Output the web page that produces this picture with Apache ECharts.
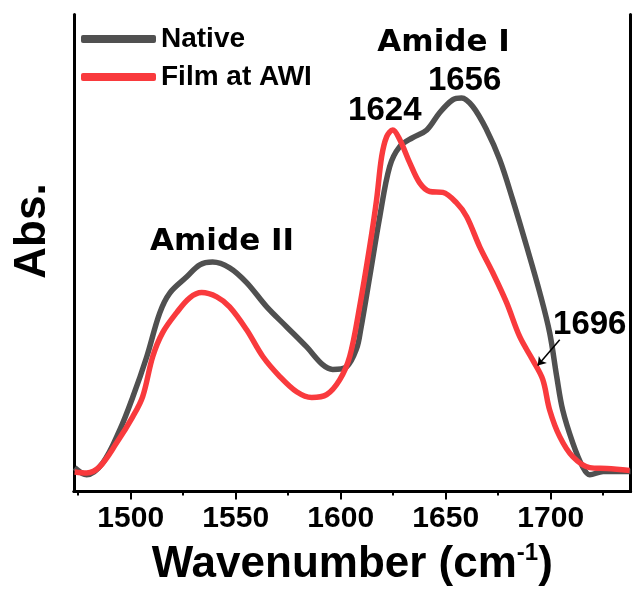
<!DOCTYPE html>
<html><head><meta charset="utf-8">
<script src="https://cdn.jsdelivr.net/npm/echarts@6/dist/echarts.min.js"></script>
<style>html,body{margin:0;padding:0;background:#fff}#c{width:633px;height:592px}</style>
</head><body><div id="c"></div>
<script>
// ---- data ----
const seriesNames = ['Native', 'Film at AWI'];
const xTickLabels = ['1500', '1550', '1600', '1650', '1700'];
const xMinorTicks = [1475, 1525, 1575, 1625, 1675, 1725];

const nativeX = [1473.3,1479.0,1486.7,1494.8,1501.0,1507.6,1513.8,1518.6,1526.7,1532.9,1539.0,1547.1,1555.2,1564.8,1574.3,1583.8,1591.4,1596.2,1602.9,1607.6,1609.5,1613.8,1618.6,1623.3,1628.1,1634.3,1641.0,1647.1,1653.3,1657.6,1662.9,1669.5,1675.7,1681.9,1688.6,1694.8,1699.5,1702.9,1705.7,1710.5,1715.2,1718.6,1725.0,1738.0];
const nativeY = [0.050,0.035,0.060,0.129,0.198,0.282,0.374,0.416,0.450,0.475,0.481,0.469,0.438,0.387,0.345,0.303,0.266,0.256,0.262,0.300,0.339,0.450,0.576,0.681,0.723,0.742,0.758,0.794,0.821,0.825,0.807,0.758,0.696,0.612,0.513,0.417,0.333,0.240,0.171,0.102,0.052,0.035,0.042,0.042];

const filmX = [1473.3,1479.0,1485.2,1493.3,1501.0,1505.7,1510.5,1515.2,1521.9,1528.1,1533.8,1541.0,1547.1,1555.2,1562.9,1571.0,1579.0,1586.2,1593.3,1599.5,1604.3,1609.0,1613.8,1617.1,1619.5,1621.9,1624.8,1628.1,1632.9,1637.6,1642.4,1648.6,1655.2,1660.0,1666.2,1672.4,1679.0,1685.2,1691.4,1696.2,1699.5,1704.3,1710.5,1718.6,1726.7,1737.6];
const filmY = [0.041,0.039,0.052,0.102,0.157,0.199,0.283,0.333,0.375,0.406,0.417,0.408,0.387,0.339,0.283,0.241,0.209,0.197,0.203,0.234,0.283,0.387,0.513,0.612,0.702,0.744,0.758,0.738,0.689,0.647,0.629,0.627,0.605,0.576,0.513,0.459,0.396,0.325,0.276,0.235,0.171,0.115,0.073,0.050,0.048,0.044];

const annotationTexts = ['Amide II', 'Amide I', '1624', '1656', '1696'];
const annotationX = [1543.5, 1649, 1621, 1659, 1718.6];
const annotationY = [0.524, 0.941, 0.797, 0.860, 0.349];
const arrowFrom = [1704.3, 0.318];
const arrowTo = [1693.8, 0.264];

// ---- chart ----
const FONT = '"Liberation Sans", Arial, sans-serif';
const WIDE = '"DejaVu Sans", sans-serif';
const X_MIN = 1473, X_MAX = 1738;
const zip = (xs, ys) => xs.map((x, i) => [x, ys[i]]);
const chart = echarts.init(document.getElementById('c'), null, {renderer: 'canvas'});

const frameAxis = {
  axisLine: {show: true, lineStyle: {color: '#000', width: 3}},
  axisTick: {show: false}, axisLabel: {show: false}, splitLine: {show: false}
};
const gridBox = {left: 74, right: 2.5, top: 14.5, bottom: 100.5, containLabel: false};
const majorValues = xTickLabels.map(Number);

chart.setOption({
  animation: false,
  backgroundColor: '#fff',
  grid: [Object.assign({}, gridBox), Object.assign({}, gridBox)],
  legend: {
    orient: 'vertical', left: 76, top: 20, itemWidth: 75, itemHeight: 8, itemGap: 10,
    icon: 'roundRect', data: seriesNames,
    textStyle: {fontSize: 28, fontWeight: 'bold', color: '#000', fontFamily: FONT}
  },
  xAxis: [{
    gridIndex: 0, type: 'value', min: X_MIN, max: X_MAX, position: 'bottom',
    axisLine: {show: true, lineStyle: {color: '#000', width: 3}},
    axisTick: {show: true, inside: false, length: 8, customValues: majorValues, lineStyle: {color: '#000', width: 2}},
    axisLabel: {
      show: true, margin: 12, fontSize: 30, fontWeight: 'bold', color: '#000', fontFamily: FONT,
      customValues: majorValues, formatter: v => String(v)
    },
    splitLine: {show: false},
    name: 'Wavenumber (cm{sup|-1})', nameLocation: 'middle', nameGap: 50,
    nameTextStyle: {
      fontSize: 44, fontWeight: 'bold', color: '#000', fontFamily: FONT,
      rich: {sup: {fontSize: 24, fontWeight: 'bold', color: '#000', fontFamily: FONT, verticalAlign: 'top', padding: [0, 0, 22, 0]}}
    }
  },
  Object.assign({gridIndex: 0, type: 'value', min: X_MIN, max: X_MAX, position: 'top'}, frameAxis),
  {
    gridIndex: 1, type: 'value', min: X_MIN, max: X_MAX, position: 'bottom',
    axisLine: {show: false},
    axisTick: {show: true, inside: false, length: 4, customValues: xMinorTicks, lineStyle: {color: '#000', width: 2}},
    axisLabel: {show: false}, splitLine: {show: false}
  }],
  yAxis: [
    Object.assign({gridIndex: 0, type: 'value', min: 0, max: 1, position: 'left'}, frameAxis),
    Object.assign({gridIndex: 0, type: 'value', min: 0, max: 1, position: 'right'}, frameAxis),
    {gridIndex: 1, type: 'value', min: 0, max: 1, show: false}
  ],
  graphic: [{
    type: 'text', x: 33, y: 231, rotation: Math.PI / 2,
    style: {text: 'Abs.', font: 'bold 44px "Liberation Sans", Arial, sans-serif', fill: '#000', align: 'center', verticalAlign: 'middle'}
  }],
  series: [
    {
      name: seriesNames[0], type: 'line', xAxisIndex: 0, yAxisIndex: 0,
      data: zip(nativeX, nativeY), smooth: 0.35,
      showSymbol: false, symbol: 'none', color: '#505050',
      lineStyle: {color: '#505050', width: 5.5}, z: 2
    },
    {
      name: seriesNames[1], type: 'line', xAxisIndex: 0, yAxisIndex: 0,
      data: zip(filmX, filmY), smooth: 0.35,
      showSymbol: false, symbol: 'none', color: '#f93a3d',
      lineStyle: {color: '#f93a3d', width: 5.5}, z: 3
    },
    {
      name: 'annotations', type: 'scatter', xAxisIndex: 0, yAxisIndex: 0,
      symbolSize: 0, silent: true, z: 10,
      itemStyle: {opacity: 1, color: '#000'},
      data: annotationTexts.map((t, i) => {
        const word = /^Amide/.test(t);
        return {
          value: [annotationX[i], annotationY[i], t],
          label: word ? {fontFamily: WIDE, fontSize: 31} : {fontFamily: FONT, fontSize: 33}
        };
      }),
      label: {
        show: true, position: 'inside', formatter: p => p.value[2],
        fontSize: 33, fontWeight: 'bold', color: '#000', fontFamily: FONT, opacity: 1
      },
      markLine: {
        silent: true, symbol: ['none', 'arrow'], symbolSize: 8,
        lineStyle: {color: '#000', width: 1.5, type: 'solid', opacity: 1}, label: {show: false},
        data: [[{coord: arrowFrom}, {coord: arrowTo}]]
      }
    }
  ]
});
</script>
</body></html>
